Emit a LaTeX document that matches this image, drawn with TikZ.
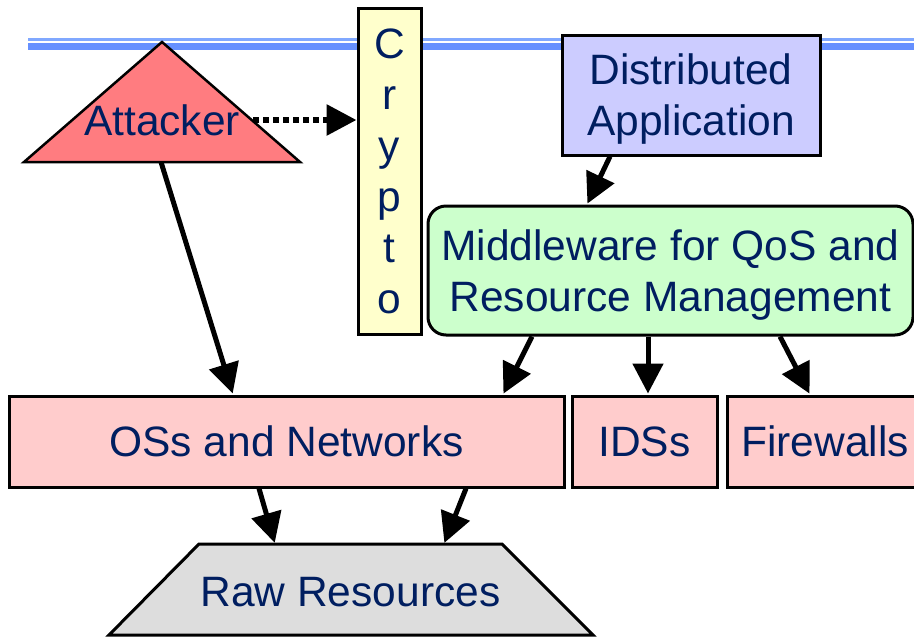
\documentclass[tikz,border=0pt]{standalone}
\usepackage{fontspec}
\setmainfont{Liberation Sans}
\usetikzlibrary{arrows.meta,calc}

\definecolor{inkblue}{RGB}{0,30,96}
\definecolor{rulelight}{RGB}{128,168,255}
\definecolor{ruledark}{RGB}{102,144,255}
\definecolor{attackfill}{RGB}{255,124,128}
\definecolor{appfill}{RGB}{204,204,255}
\definecolor{mwfill}{RGB}{204,255,204}
\definecolor{sysfill}{RGB}{255,204,204}
\definecolor{cryptofill}{RGB}{255,255,204}
\definecolor{rawfill}{RGB}{221,221,221}

\tikzset{
  label text/.style={text=inkblue, font=\fontsize{42.5}{51}\selectfont, inner sep=0pt, text depth=0pt, align=center},
  boxed/.style={label text, draw=black, line width=3pt, minimum width=#1},
  flow/.style={line width=5pt, -{Triangle[length=30pt,width=30pt]}, shorten >=1pt},
  dotflow/.style={line width=6pt, dash pattern=on 6pt off 4pt, -{Triangle[length=30pt,width=30pt]}},
}

\begin{document}
\begin{tikzpicture}[x=1pt, y=-1pt]
  \useasboundingbox (0,0) rectangle (914,638);
  \begin{scope}
  \clip (0,0) rectangle (914,638);

  % double title rule
  \fill[rulelight] (28,38) rectangle (914,40.5);
  \fill[ruledark]  (28,43.3) rectangle (914,49.5);

  % attacker triangle
  \draw[fill=attackfill, line width=2.5pt, line join=miter] (162,42) -- (300,162) -- (24,162) -- cycle;
  \node[label text] (att) at (162,120) {Attacker};
  \coordinate (attbase) at (161,162);

  % crypto column
  \node[boxed=63pt, fill=cryptofill, minimum height=326pt] (crypto) at (389.5,171) {C\\r\\y\\p\\t\\o};

  % application and middleware
  \node[boxed=258pt, fill=appfill, minimum height=120pt] (app) at (691,95) {Distributed\\Application};
  \node[boxed=485pt, fill=mwfill, minimum height=129pt, rounded corners=18pt] (mw) at (670.5,270.5)
    {Middleware for QoS and\\Resource Management};

  % system layer
  \node[boxed=555pt, fill=sysfill, minimum height=91pt] (os)  at (286.5,441.5) {OSs and Networks};
  \node[boxed=145pt, fill=sysfill, minimum height=91pt] (ids) at (644.5,441.5) {IDSs};
  \node[boxed=196pt, fill=sysfill, minimum height=91pt] (fw)  at (825,441.5) {Firewalls};

  % raw resources trapezium
  \draw[fill=rawfill, line width=3pt, line join=miter] (199,544) -- (502,544) -- (593,635) -- (109,635) -- cycle;
  \node[label text, minimum width=303pt, minimum height=96pt] (raw) at (350.5,592) {Raw Resources};

  % connectors
  \draw[dotflow] (att.east) ++(13pt,0) -- (crypto.west |- att.east);
  \draw[flow] (attbase) -- ([xshift=-53.5pt]os.north);
  \draw[flow] ([xshift=-81pt]app.south) -- ([xshift=-83.5pt]mw.north);
  \draw[flow] ([xshift=-138.5pt]mw.south) -- ([xshift=216.5pt]os.north);
  \draw[flow] ([xshift=-22.5pt]mw.south) -- ([xshift=3.5pt]ids.north);
  \draw[flow] ([xshift=109.5pt]mw.south) -- ([xshift=-15pt]fw.north);
  \draw[flow] ([xshift=-27.5pt]os.south) -- ([xshift=-75.5pt]raw.north);
  \draw[flow] ([xshift=179.5pt]os.south) -- ([xshift=93.5pt]raw.north);
  \end{scope}
\end{tikzpicture}
\end{document}
